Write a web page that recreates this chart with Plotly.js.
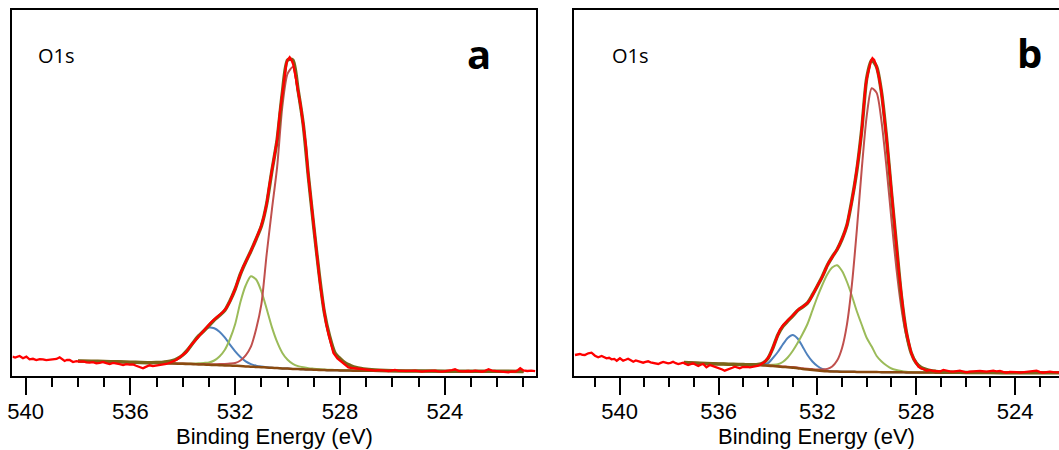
<!DOCTYPE html>
<html>
<head>
<meta charset="utf-8">
<script src="https://cdn.plot.ly/plotly-3.0.1.min.js"></script>
<style>html,body{margin:0;padding:0;background:#fff;}#chart{width:1059px;height:450px;}</style>
</head>
<body>
<div id="chart"></div>
<script>
// ---------- Panel a : raw O1s spectrum ----------
const RAW_A_E = [540.50,540.40,540.23,540.10,539.97,539.85,539.72,539.59,539.46,539.34,
539.21,539.08,538.95,538.82,538.70,538.60,538.51,538.42,538.32,538.19,
538.06,537.94,537.80,537.68,537.56,537.43,537.30,537.17,537.05,536.92,
536.79,536.66,536.54,536.41,536.28,536.15,536.03,535.90,535.78,535.65,
535.52,535.45,535.39,535.27,535.14,535.01,534.88,534.76,534.63,534.50,
534.38,534.25,534.12,533.99,533.86,533.74,533.61,533.49,533.36,533.23,
533.10,532.98,532.85,532.72,532.60,532.47,532.34,532.21,532.10,532.00,
531.90,531.79,531.70,531.60,531.50,531.40,531.30,531.20,531.10,531.02,
530.90,530.80,530.70,530.60,530.50,530.40,530.30,530.20,530.10,530.05,
530.00,529.92,529.85,529.79,529.70,529.60,529.50,529.41,529.30,529.22,
529.10,529.02,528.92,528.83,528.74,528.64,528.54,528.44,528.34,528.25,
528.10,527.94,527.80,527.68,527.55,527.43,527.30,527.17,527.05,526.92,
526.79,526.66,526.53,526.41,526.28,526.15,526.02,525.90,525.77,525.64,
525.51,525.39,525.26,525.13,525.01,524.88,524.75,524.62,524.50,524.37,
524.24,524.11,523.98,523.86,523.73,523.61,523.48,523.35,523.22,523.10,
522.97,522.84,522.71,522.59,522.46,522.33,522.20,522.08,521.95,521.82,
521.70,521.57,521.44,521.31,521.20,521.12,521.00,520.85,520.70,520.55];
const RAW_A_I = [19.3,18.5,20,17.7,19.3,16.7,17.2,16,16.8,16.7,
15.8,16,16.8,17,18.7,16.5,15,16.2,16,14,
14.8,14.3,14.6,13.6,13.3,13.8,12.7,13.2,14,12.8,
12,13.1,12.7,11.8,11,11.9,11.3,11.6,10.3,9.2,
7.7,8.6,9.3,10.7,9.8,10.3,10.5,11,12,13.3,
14.5,16,18.5,21,24,29,33,37,41,44,
48,52,55.5,58,61,64,68,74,80,87,
95,103,109,114,119,125,131,137,143,149,
160,172,190,205,218,236,262,283,303,312,
316,318.7,316,312,300,286,270,253,230,203,
172,153,130,109,88,69,54,42,31,23,
17.5,14,11.5,8.5,8,7.7,7.3,6.7,6.5,6,
5.8,5.3,5.9,6,5.4,5,5.6,6,5.2,5,
5.5,4.7,5.1,5.3,4.6,4.3,4.9,5,5.4,5.3,
4.6,4.3,4.8,5,5.9,6.7,5.2,4.7,5.1,5,
4.6,5.3,4.9,4.3,5.2,6.7,5.4,5,4.6,4.3,
4.0,3.7,4.5,4.3,6,7.7,5.5,5.0,5.3,4.8];

// ---------- Panel a : fit ----------
const FIT_A_E = [538.0,537.5,537.0,536.5,536.0,535.6,535.2,
535.0,534.8,534.6,534.4,534.2,534.0,533.8,533.6,533.4,533.2,
533.0,532.8,532.6,532.4,532.2,532.0,531.8,531.6,531.4,531.2,
531.0,530.8,530.6,530.4,530.2,530.0,529.8,529.6,529.4,529.2,
529.0,528.8,528.6,528.4,528.2,528.0,527.8,527.6,527.4,527.2,
527.0,526.5,526.0,525.0,524.0,523.0,522.0,521.0];
const BG_A = [15.0,14.8,14.5,14.2,13.8,13.5,13.2,
13.1,12.9,12.7,12.5,12.3,12.2,12.0,11.8,11.6,11.4,
11.2,11.0,10.8,10.6,10.4,10.2,10.0,9.6,9.3,9.0,
8.8,8.5,8.2,7.9,7.6,7.4,7.1,6.9,6.7,6.5,
6.3,6.1,5.9,5.8,5.7,5.6,5.5,5.4,5.3,5.25,
5.2,5.1,5.0,4.9,4.8,4.75,4.7,4.6];
const PEAK3_A = [15.0,14.8,14.5,14.2,13.8,13.5,13.2,
13.25,13.3,13.75,14.9,17.1,20.9,26.4,33.1,40.1,45.7,
48.5,47.8,44.3,38.6,31.4,24.7,19.0,14.6,11.9,10.3,
9.4,8.8,8.3,7.9,7.6,7.4,7.1,6.9,6.7,6.5,
6.3,6.1,5.9,5.8,5.7,5.6,5.5,5.4,5.3,5.25,
5.2,5.1,5.0,4.9,4.8,4.75,4.7,4.6];
const PEAK2_A = [15.0,14.8,14.5,14.2,13.8,13.5,13.2,
13.2,13.0,12.85,12.7,12.55,12.55,12.5,12.5,12.7,13.1,
13.6,15.5,19.5,26.0,37.0,52.0,74.0,90.5,99.7,96.5,
84.6,67.2,48.9,34.1,23.1,16.3,12.2,9.9,8.65,7.7,
7.3,6.9,6.5,6.3,6.1,5.9,5.75,5.6,5.45,5.37,
5.3,5.1,5.0,4.9,4.8,4.75,4.7,4.6];
const PEAK1_A = [15.0,14.8,14.5,14.25,13.85,13.6,13.3,
13.2,13.0,12.85,12.7,12.5,12.45,12.3,12.15,12.0,11.9,
11.8,11.8,11.9,12.1,12.4,13.0,15.5,20.6,29.3,47.0,
71.8,121.5,166.2,208.9,269.6,302.4,309.1,282.9,250.7,196.5,
147.3,102.1,63.4,39.0,23.1,17.5,12.5,10.4,8.3,7.25,
6.6,5.8,5.3,5.0,4.8,4.75,4.7,4.6];
const ENV_A = [15.0,14.8,14.5,14.2,13.8,13.5,13.3,
13.4,13.6,14.2,15.3,17.5,21.0,26.5,33.5,40.0,45.0,
50.5,56.0,60.5,65.5,75.0,87.0,102.0,114.0,125.0,137.0,
150.0,172.0,205.0,236.0,283.0,316.0,316.0,286.0,251.0,198.0,
149.0,103.0,64.0,40.0,23.5,17.5,13.0,10.5,8.5,7.4,
6.7,5.8,5.3,5.0,4.8,4.75,4.7,4.6];

// ---------- Panel b : raw O1s spectrum ----------
const RAW_B_E = [541.81,541.71,541.61,541.51,541.41,541.27,541.14,541.00,540.87,540.73,
540.63,540.53,540.43,540.33,540.22,540.12,539.99,539.86,539.76,539.66,
539.55,539.45,539.35,539.25,539.15,539.05,538.95,538.85,538.75,538.65,
538.55,538.44,538.34,538.24,538.14,538.04,537.94,537.84,537.73,537.63,
537.53,537.43,537.33,537.23,537.13,537.03,536.92,536.82,536.72,536.62,
536.49,536.35,536.25,536.15,536.05,535.95,535.85,535.75,535.65,535.54,
535.44,535.34,535.24,535.14,535.04,534.94,534.84,534.73,534.63,534.53,
534.43,534.33,534.22,534.12,534.02,533.92,533.82,533.72,533.62,533.52,
533.38,533.24,533.11,533.00,532.91,532.80,532.71,532.60,532.50,532.40,
532.30,532.20,532.10,531.96,531.83,531.70,531.56,531.42,531.29,531.18,
531.08,530.95,530.81,530.70,530.61,530.50,530.41,530.30,530.21,530.12,
530.05,529.98,529.90,529.84,529.77,529.70,529.61,529.50,529.40,529.30,
529.20,529.10,529.00,528.90,528.80,528.70,528.60,528.50,528.40,528.30,
528.20,528.12,528.00,527.91,527.80,527.71,527.58,527.45,527.30,527.17,
527.04,526.90,526.77,526.64,526.50,526.37,526.23,526.10,525.96,525.83,
525.69,525.56,525.42,525.29,525.15,525.01,524.88,524.75,524.61,524.48,
524.34,524.21,524.07,523.94,523.80,523.67,523.53,523.40,523.26,523.13,
523.00,522.86,522.73,522.59,522.46,522.32,522.20];
const RAW_B_I = [21,21.5,22,21.2,21,22.7,23.3,20.3,18.7,20,
18.5,17.7,18.2,16.7,17.1,15.3,17.7,15.3,16.2,17.3,
15.8,14.3,15.6,15,14.2,13.3,14.1,14.7,13.6,13.3,
12.8,12,13.1,14,13.4,12.7,13.2,14.3,12.8,12,
12.6,13.3,12.1,11,11.8,12.7,11.2,10,11.3,12,
8.7,11,10.1,9.3,8.6,7.7,6.5,5.3,6.1,6.7,
8.2,9.3,8.6,7.7,8.8,9.3,9.1,8.7,8.9,9.3,
10,11,12.4,14.3,17.5,21,27,33,40,46,
51,54.3,57.7,60,62.7,65.5,67.7,69,71,73,
76,81,86,92,97.7,105,112.7,118,122.7,127.5,
132.7,140,150,162,174,190,204,225,244,268,
290,300,308,314,317.7,316,310,298,283,262,
238,212,182,156,130,104,80,60,44,32,
23,18,13,9.3,7.5,7,5.3,5.8,5,5,
4.5,6,5.1,4.6,4.3,5,5.3,4.5,3.7,4.4,
4.3,4.8,5,4.6,4.3,4.9,5.3,4.7,5,4.1,
3.3,4,4.3,3.9,3.3,3.8,4.3,4.6,4.8,5.3,
4.2,3.3,3.9,4.3,3.8,3.3,3.6];

// ---------- Panel b : fit ----------
const FIT_B_E = [537.4,537.0,536.5,536.0,535.6,535.2,
535.0,534.8,534.6,534.4,534.2,534.0,533.8,533.6,533.4,533.2,
533.0,532.8,532.6,532.4,532.2,532.0,531.8,531.6,531.4,531.2,
531.0,530.8,530.6,530.4,530.2,530.0,529.8,529.6,529.4,529.2,
529.0,528.8,528.6,528.4,528.2,528.0,527.8,527.6,527.4,527.2,
527.0,526.5,526.0,525.0,524.0,523.0,522.2];
const BG_B = [13.4,13.0,12.5,12.1,11.8,11.5,
11.3,11.1,11.0,10.8,10.6,10.3,9.9,9.5,9.1,8.7,
8.3,7.8,7.0,6.4,5.9,5.4,5.0,4.7,4.5,4.4,
4.3,4.25,4.2,4.1,4.05,4.0,3.95,3.9,3.85,3.8,
3.75,3.7,3.65,3.6,3.55,3.5,3.45,3.4,3.4,3.35,
3.35,3.3,3.3,3.3,3.3,3.3,3.3];
const PEAK3_B = [13.4,13.0,12.5,12.1,11.8,11.5,
11.3,11.15,11.1,11.1,11.6,12.8,18.0,24.0,31.5,38.0,
41.0,37.5,29.5,21.0,14.5,10.0,7.0,5.6,4.8,4.5,
4.35,4.28,4.2,4.1,4.05,4.0,3.95,3.9,3.85,3.8,
3.75,3.7,3.65,3.6,3.55,3.5,3.45,3.4,3.4,3.35,
3.35,3.3,3.3,3.3,3.3,3.3,3.3];
const PEAK2_B = [13.4,13.0,12.5,12.1,11.8,11.5,
11.35,11.2,11.15,11.0,11.0,11.0,11.2,11.7,14.0,18.5,
25.0,33.0,42.0,52.0,65.5,79.0,91.0,101.5,108.5,110.8,
105.0,94.0,80.0,64.5,51.0,38.0,29.5,20.0,14.5,10.5,
7.5,6.0,5.0,4.3,3.9,3.65,3.55,3.45,3.42,3.37,
3.35,3.3,3.3,3.3,3.3,3.3,3.3];
const PEAK1_B = [13.6,13.2,12.7,12.3,12.0,11.8,
11.6,11.4,11.3,11.1,10.9,10.6,10.3,9.9,9.6,9.2,
8.9,8.5,7.8,7.3,6.9,6.6,6.6,7.1,9.5,15.4,
28.0,51.9,91.8,146.6,207.9,260.4,287.8,283.1,254.0,208.2,
156.0,107.3,67.9,39.9,23.4,13.9,8.8,6.2,5.3,4.75,
4.35,3.9,3.6,3.4,3.3,3.3,3.3];
const ENV_B = [13.4,13.0,12.5,12.1,11.8,11.5,
11.4,11.3,11.3,11.6,13.0,17.5,28.0,41.0,49.5,55.0,
60.0,65.5,69.0,73.0,81.0,90.0,99.5,110.5,119.0,126.5,
137.0,151.0,176.0,206.0,247.0,298.0,316.0,309.0,283.0,238.0,
183.0,131.0,80.0,44.0,23.0,13.0,8.5,6.5,5.2,4.6,
4.2,3.8,3.6,3.4,3.3,3.3,3.3];

// ---------- labels ----------
const AXIS_TITLE = 'Binding Energy (eV)';
const REGION_LABEL = 'O1s';
const PANEL_LABELS = ['a', 'b'];

// ---------- styles ----------
const C_DATA = '#ff0000', C_ENV = '#7a6418', C_BG = '#8a4a10';
const C_P1 = '#c0504d', C_P2 = '#9bbb59', C_P3 = '#4f81bd';

function ln(x, y, panel, color, width, shape) {
  return {
    type: 'scatter', mode: 'lines', x: x, y: y,
    xaxis: panel === 0 ? 'x' : 'x2', yaxis: panel === 0 ? 'y' : 'y2',
    line: {color: color, width: width, shape: shape, smoothing: 0.7},
    hoverinfo: 'skip', showlegend: false
  };
}

const data = [
  ln(FIT_A_E, PEAK3_A, 0, C_P3, 2, 'spline'),
  ln(FIT_A_E, PEAK2_A, 0, C_P2, 2, 'spline'),
  ln(FIT_A_E, PEAK1_A, 0, C_P1, 2, 'spline'),
  ln(FIT_A_E, BG_A, 0, C_BG, 2.5, 'spline'),
  ln(FIT_A_E, ENV_A, 0, C_ENV, 3.5, 'spline'),
  ln(RAW_A_E, RAW_A_I, 0, C_DATA, 2.3, 'linear'),
  ln(FIT_B_E, PEAK3_B, 1, C_P3, 2, 'spline'),
  ln(FIT_B_E, PEAK2_B, 1, C_P2, 2, 'spline'),
  ln(FIT_B_E, PEAK1_B, 1, C_P1, 2, 'spline'),
  ln(FIT_B_E, BG_B, 1, C_BG, 2.5, 'spline'),
  ln(FIT_B_E, ENV_B, 1, C_ENV, 3.5, 'spline'),
  ln(RAW_B_E, RAW_B_I, 1, C_DATA, 2.3, 'linear')
];

const tickFont = {family: 'Liberation Sans, Arial, sans-serif', size: 22, color: '#000'};
function xax(domain, range, anchor) {
  return {
    domain: domain, range: range, anchor: anchor,
    showline: true, linecolor: '#000', linewidth: 2, mirror: true,
    ticks: 'outside', tick0: 0, dtick: 4, ticklen: 17, tickwidth: 2, tickcolor: '#000',
    ticklabelstandoff: -2,
    minor: {ticks: 'outside', dtick: 1, ticklen: 9, tickwidth: 2, tickcolor: '#000', showgrid: false},
    showgrid: false, zeroline: false, tickfont: tickFont,
    title: {text: AXIS_TITLE, font: tickFont, standoff: 1}
  };
}
function yax(anchor, mirror) {
  return {
    domain: [0, 1], range: [0, 366], anchor: anchor,
    showline: true, linecolor: '#000', linewidth: 2, mirror: mirror,
    ticks: '', showticklabels: false, showgrid: false, zeroline: false
  };
}

const labelFont = {family: 'Open Sans, Noto Sans, sans-serif', size: 20, color: '#000'};
const boldFont = {family: 'Open Sans, Noto Sans, sans-serif', size: 40, color: '#000', weight: 'bold'};
const annotations = [
  {xref: 'paper', yref: 'paper', x: 0.053, y: 0.877, text: REGION_LABEL, showarrow: false, xanchor: 'center', yanchor: 'middle', font: labelFont},
  {xref: 'paper', yref: 'paper', x: 0.5954, y: 0.877, text: REGION_LABEL, showarrow: false, xanchor: 'center', yanchor: 'middle', font: labelFont},
  {xref: 'paper', yref: 'paper', x: 0.4523, y: 0.881, text: '<b>' + PANEL_LABELS[0] + '</b>', showarrow: false, xanchor: 'center', yanchor: 'middle', font: boldFont},
  {xref: 'paper', yref: 'paper', x: 0.9726, y: 0.883, text: '<b>' + PANEL_LABELS[1] + '</b>', showarrow: false, xanchor: 'center', yanchor: 'middle', font: boldFont}
];

const layout = {
  width: 1059, height: 450,
  margin: {l: 0, r: 0, t: 10, b: 74, pad: 0},
  paper_bgcolor: '#fff', plot_bgcolor: '#fff',
  showlegend: false,
  xaxis: xax([0.0118, 0.5066], [540.5, 520.5], 'y'),
  yaxis: yax('x', true),
  xaxis2: xax([0.5420, 1.0], [541.85, 522.22], 'y2'),
  yaxis2: yax('x2', false),
  annotations: annotations
};

Plotly.newPlot('chart', data, layout, {displayModeBar: false, staticPlot: true});
</script>
</body>
</html>
